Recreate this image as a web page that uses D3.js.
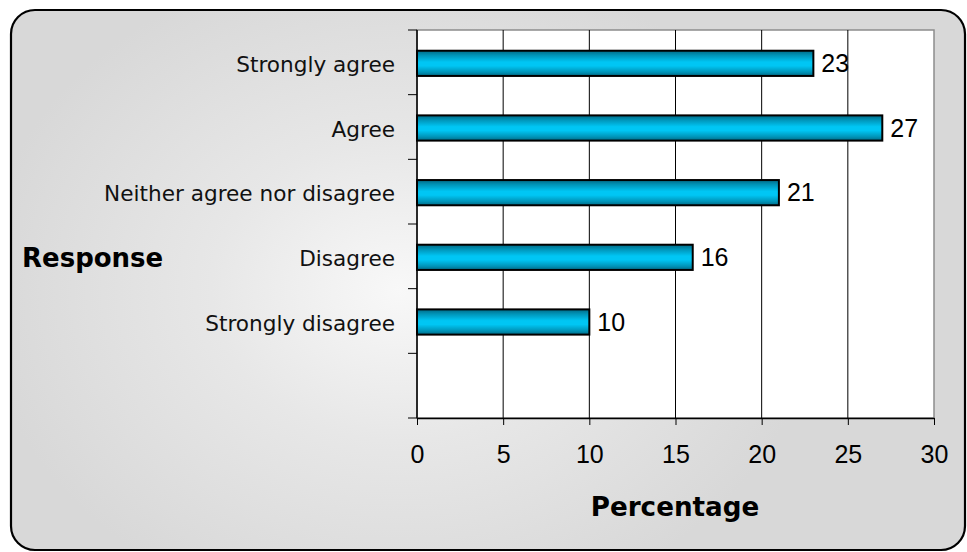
<!DOCTYPE html>
<html>
<head>
<meta charset="utf-8">
<script src="https://cdn.jsdelivr.net/npm/d3@7"></script>
<style>
  html, body { margin: 0; padding: 0; background: #ffffff; }
  svg { display: block; }
</style>
</head>
<body>
<svg id="chart" width="967" height="552"></svg>
<script>
// Survey responses, top to bottom; the last slot of the band is left empty
const categories = ["Strongly agree", "Agree", "Neither agree nor disagree", "Disagree", "Strongly disagree"];
const percentages = [23, 27, 21, 16, 10];
const xTicks = [0, 5, 10, 15, 20, 25, 30];
const xTitle = "Percentage";
const yTitle = "Response";

const svg = d3.select("#chart");
const defs = svg.append("defs");

// Soft light centre fading to grey for the chart background
const bg = defs.append("radialGradient")
  .attr("id", "bgGrad")
  .attr("gradientUnits", "userSpaceOnUse")
  .attr("cx", 400).attr("cy", 290).attr("r", 420)
  .attr("gradientTransform", "translate(400,290) scale(1,0.8) translate(-400,-290)");
bg.append("stop").attr("offset", "0").attr("stop-color", "#f8f8f8");
bg.append("stop").attr("offset", "0.45").attr("stop-color", "#e7e7e7");
bg.append("stop").attr("offset", "1").attr("stop-color", "#d8d8d8");

// Cylindrical shading for the bars
const barGrad = defs.append("linearGradient")
  .attr("id", "barGrad")
  .attr("x1", 0).attr("y1", 0).attr("x2", 0).attr("y2", 1);
[["0", "#006a86"], ["0.18", "#0094b8"], ["0.45", "#00c6f4"], ["0.6", "#00c6f4"], ["0.85", "#0094b8"], ["1", "#006a86"]]
  .forEach(([o, c]) => barGrad.append("stop").attr("offset", o).attr("stop-color", c));

// Outer rounded frame
svg.append("rect")
  .attr("x", 11).attr("y", 10)
  .attr("width", 954).attr("height", 540)
  .attr("rx", 24).attr("ry", 24)
  .attr("fill", "url(#bgGrad)")
  .attr("stroke", "#000").attr("stroke-width", 2.2);

// Plot area
const plot = { left: 417, right: 934, top: 30, bottom: 418 };

const x = d3.scaleLinear()
  .domain([0, 30])
  .range([plot.left, plot.right]);

// Six bands: five responses plus one empty slot at the bottom
const yDomain = categories.concat(["__blank"]);
const y = d3.scaleBand()
  .domain(yDomain)
  .range([plot.top, plot.bottom])
  .paddingInner(0).paddingOuter(0);

const barH = y.bandwidth() * 0.39;

svg.append("rect")
  .attr("x", plot.left).attr("y", plot.top)
  .attr("width", plot.right - plot.left).attr("height", plot.bottom - plot.top)
  .attr("fill", "#ffffff")
  .attr("stroke", "#8c8c8c").attr("stroke-width", 1.5);

// Vertical gridlines
svg.append("g")
  .selectAll("line")
  .data(xTicks.filter(t => t > 0 && t < 30))
  .join("line")
  .attr("x1", d => x(d)).attr("x2", d => x(d))
  .attr("y1", plot.top).attr("y2", plot.bottom)
  .attr("stroke", "#000").attr("stroke-width", 1);

// Bars
svg.append("g")
  .selectAll("rect")
  .data(categories.map((c, i) => ({ c, v: percentages[i] })))
  .join("rect")
  .attr("x", x(0))
  .attr("y", d => y(d.c) + y.bandwidth() / 2 - barH / 2 + 1)
  .attr("width", d => x(d.v) - x(0))
  .attr("height", barH)
  .attr("fill", "url(#barGrad)")
  .attr("stroke", "#000").attr("stroke-width", 2);

// Value labels
svg.append("g")
  .selectAll("text")
  .data(categories.map((c, i) => ({ c, v: percentages[i] })))
  .join("text")
  .attr("x", d => x(d.v) + 8)
  .attr("y", d => y(d.c) + y.bandwidth() / 2 + 9.5)
  .attr("font-family", "Liberation Sans, Arial, sans-serif")
  .attr("font-size", 25)
  .attr("fill", "#000")
  .text(d => d.v);

// Y axis: ticks at band boundaries, labels centred on bands
const yAxisG = svg.append("g");
yAxisG.append("line")
  .attr("x1", plot.left).attr("x2", plot.left)
  .attr("y1", plot.top).attr("y2", plot.bottom)
  .attr("stroke", "#000").attr("stroke-width", 1.5);
const boundaries = yDomain.map(d => y(d)).concat([plot.bottom]);
yAxisG.selectAll("line.tick")
  .data(boundaries)
  .join("line")
  .attr("class", "tick")
  .attr("x1", plot.left - 9).attr("x2", plot.left)
  .attr("y1", d => d).attr("y2", d => d)
  .attr("stroke", "#000").attr("stroke-width", 1);
yAxisG.selectAll("text")
  .data(categories)
  .join("text")
  .attr("x", 395)
  .attr("y", d => y(d) + y.bandwidth() / 2 + 9.5)
  .attr("text-anchor", "end")
  .attr("font-family", "DejaVu Sans, Verdana, sans-serif")
  .attr("font-size", 21.6)
  .attr("fill", "#111")
  .text(d => d);

// X axis
const xAxisG = svg.append("g")
  .attr("transform", `translate(0,${plot.bottom})`)
  .call(d3.axisBottom(x).tickValues(xTicks).tickSize(7).tickPadding(20).tickSizeOuter(0));
xAxisG.select(".domain").attr("stroke", "#000").attr("stroke-width", 1.5);
xAxisG.selectAll(".tick line").attr("stroke", "#000").attr("stroke-width", 1);
xAxisG.selectAll(".tick text")
  .attr("font-family", "Liberation Sans, Arial, sans-serif")
  .attr("font-size", 25)
  .attr("fill", "#000")
  .attr("dy", "0.71em");

// Axis titles
svg.append("text")
  .attr("x", 675).attr("y", 516)
  .attr("text-anchor", "middle")
  .attr("font-family", "DejaVu Sans, Verdana, sans-serif")
  .attr("font-weight", "bold")
  .attr("font-size", 26.2)
  .attr("fill", "#000")
  .text(xTitle);

svg.append("text")
  .attr("x", 22).attr("y", 267)
  .attr("font-family", "DejaVu Sans, Verdana, sans-serif")
  .attr("font-weight", "bold")
  .attr("font-size", 26)
  .attr("fill", "#000")
  .text(yTitle);
</script>
</body>
</html>
